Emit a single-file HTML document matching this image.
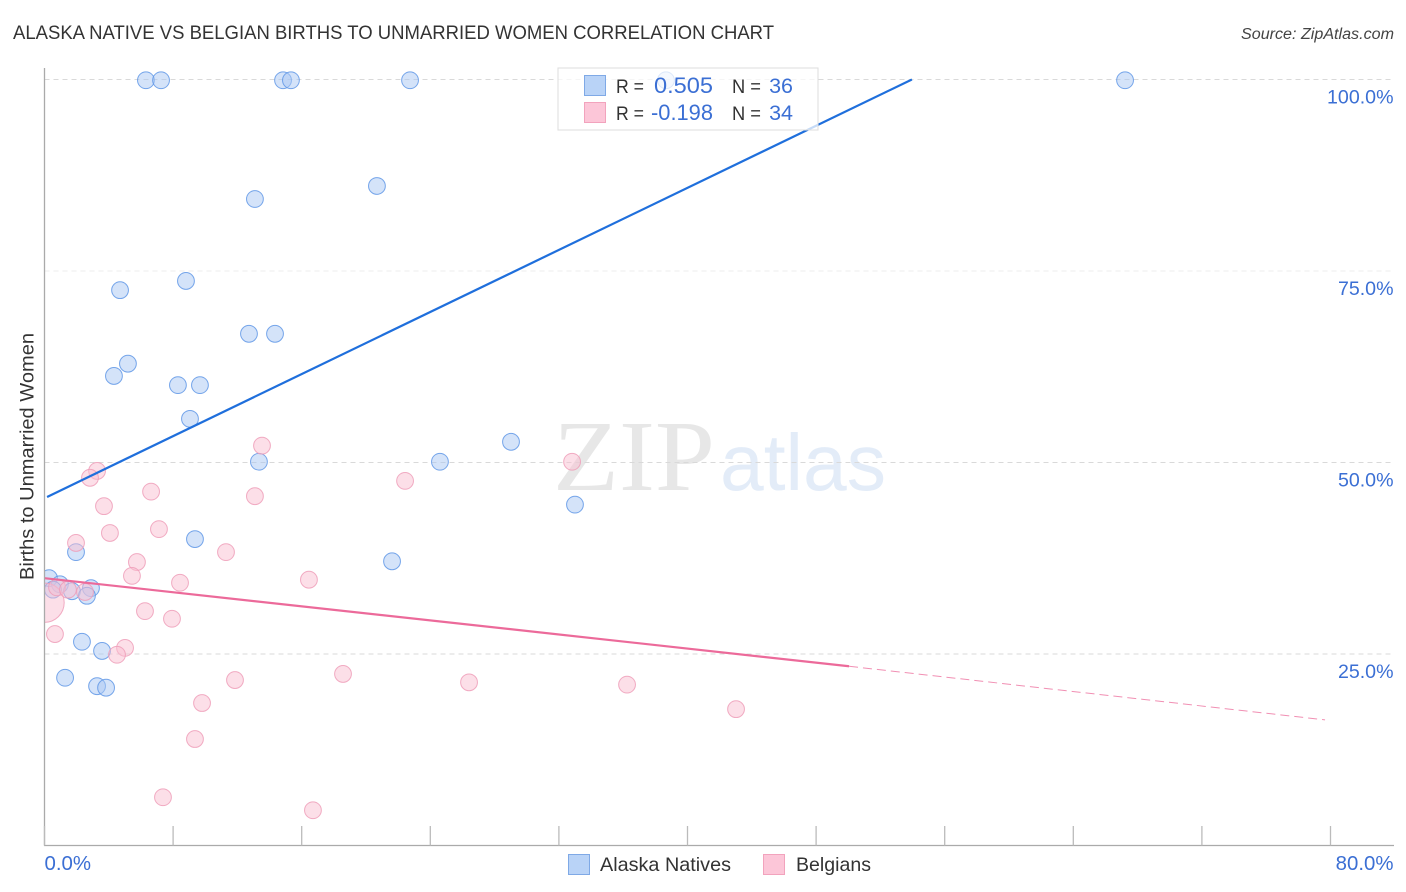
<!DOCTYPE html>
<html lang="en">
<head>
<meta charset="utf-8">
<title>Alaska Native vs Belgian Births to Unmarried Women Correlation Chart</title>
<style>
html,body{margin:0;padding:0;background:#fff;width:1406px;height:892px;overflow:hidden}
svg{display:block}
text{font-family:"Liberation Sans",sans-serif}
</style>
</head>
<body>
<svg id="chart" xmlns="http://www.w3.org/2000/svg" width="1406" height="892" viewBox="0 0 1406 892">
  <defs><clipPath id="plot-clip"><rect x="44.5" y="60" width="1350" height="785.5"/></clipPath></defs>
  <text x="13" y="39" font-size="19.5" fill="#333" textLength="761" lengthAdjust="spacingAndGlyphs">ALASKA NATIVE VS BELGIAN BIRTHS TO UNMARRIED WOMEN CORRELATION CHART</text>
  <text x="1241" y="39" font-size="15.5" font-style="italic" fill="#444" textLength="153" lengthAdjust="spacingAndGlyphs">Source: ZipAtlas.com</text>
  <text x="553" y="490" font-size="101" fill="#e7e7e7" style="font-family:'Liberation Serif',serif" textLength="162" lengthAdjust="spacingAndGlyphs">ZIP</text>
  <text x="720" y="490" font-size="80" fill="#e3ecf8" textLength="166" lengthAdjust="spacingAndGlyphs">atlas</text>
  <g id="grid"></g>
  <g id="points" clip-path="url(#plot-clip)"></g>
  <g id="trends"></g>
  <g id="axes"></g>
  <text transform="translate(33.5,456.5) rotate(-90)" font-size="19.5" fill="#333" text-anchor="middle" textLength="247" lengthAdjust="spacingAndGlyphs">Births to Unmarried Women</text>

  <g>
    <rect x="558" y="68" width="260" height="62" fill="#fff" fill-opacity="0.74" stroke="#ddd" stroke-width="1"/>
    <rect x="584.5" y="75.5" width="21" height="20" fill="#b9d3f7" stroke="#7fa9e6"/>
    <rect x="584.5" y="102.5" width="21" height="20" fill="#fcc6d8" stroke="#f2a3bd"/>
    <text x="616" y="93" font-size="19.5" fill="#333" textLength="28" lengthAdjust="spacingAndGlyphs">R =</text>
    <text x="654" y="93" font-size="22" fill="#3b6fd4" textLength="59" lengthAdjust="spacingAndGlyphs">0.505</text>
    <text x="732" y="93" font-size="19.5" fill="#333" textLength="29" lengthAdjust="spacingAndGlyphs">N =</text>
    <text x="793" y="93" font-size="21.5" fill="#3b6fd4" text-anchor="end">36</text>
    <text x="616" y="120" font-size="19.5" fill="#333" textLength="28" lengthAdjust="spacingAndGlyphs">R =</text>
    <text x="651" y="120" font-size="22" fill="#3b6fd4" textLength="62" lengthAdjust="spacingAndGlyphs">-0.198</text>
    <text x="732" y="120" font-size="19.5" fill="#333" textLength="29" lengthAdjust="spacingAndGlyphs">N =</text>
    <text x="793" y="120" font-size="21.5" fill="#3b6fd4" text-anchor="end">34</text>
  </g>

  <g>
    <rect x="568.5" y="854.5" width="21" height="20" fill="#b9d3f7" stroke="#7fa9e6"/>
    <text x="600" y="871" font-size="19.5" fill="#333" textLength="131" lengthAdjust="spacingAndGlyphs">Alaska Natives</text>
    <rect x="763.5" y="854.5" width="21" height="20" fill="#fcc6d8" stroke="#f2a3bd"/>
    <text x="796" y="871" font-size="19.5" fill="#333" textLength="75" lengthAdjust="spacingAndGlyphs">Belgians</text>
  </g>
</svg>
<script>
// Values (percent units)
const alaskaX = [6.31,7.25,14.84,15.33,22.74,67.22,38.66,20.68,13.09,8.80,4.70,12.72,14.34,5.19,4.32,8.30,9.67,9.05,13.34,24.6,29.02,33.0,9.36,21.62,1.96,0.28,0.96,0.53,1.71,2.89,2.64,2.33,3.58,1.28,3.27,3.83];
const alaskaY = [99.9,99.9,99.9,99.9,99.9,99.9,99.9,86.1,84.4,73.7,72.5,66.8,66.8,62.9,61.3,60.1,60.1,55.7,50.1,50.1,52.7,44.5,40.0,37.1,38.3,34.9,34.1,33.4,33.2,33.6,32.6,26.6,25.4,21.9,20.8,20.6];
const belgianX = [32.82,13.53,3.27,2.83,22.43,6.63,13.09,3.70,4.07,7.12,1.96,11.29,5.75,5.44,8.43,16.45,6.25,7.93,5.01,4.51,0.65,11.85,18.57,26.41,36.24,43.02,9.80,9.36,7.37,16.7,0,0.78,1.46,2.52];
const belgianY = [50.1,52.2,48.9,48.0,47.6,46.2,45.6,44.3,40.8,41.3,39.5,38.3,37.0,35.2,34.3,34.7,30.6,29.6,25.8,24.9,27.6,21.6,22.4,21.3,21.0,17.8,18.6,13.9,6.3,4.6,31.7,33.7,33.4,33.1];
const belgianWeight = [1,1,1,1,1,1,1,1,1,1,1,1,1,1,1,1,1,1,1,1,1,1,1,1,1,1,1,1,1,1,5.5,1,1,1];
const alaskaTrendX = [0.16,53.96];
const alaskaTrendY = [45.5,100];
const belgianTrendX = [0,50.05];
const belgianTrendY = [34.9,23.4];
const belgianForecastX = [50.05,79.66];
const belgianForecastY = [23.4,16.4];
const yGridValues = [100,75,50,25];
const yTickLabels = ["100.0%","75.0%","50.0%","25.0%"];
const xTickValues = [0,8,16,24,32,40,48,56,64,72,80];
const xEndValues = [0,80];
const xEndLabels = ["0.0%","80.0%"];

const NS = 'http://www.w3.org/2000/svg';
const sx = v => 44.5 + v * 16.075;
const sy = v => 845.5 - v * 7.66;
function mk(parent, tag, attrs, txt) {
  const el = document.createElementNS(NS, tag);
  for (const k in attrs) el.setAttribute(k, attrs[k]);
  if (txt !== undefined) el.textContent = txt;
  parent.appendChild(el);
  return el;
}
const grid = document.getElementById('grid');
const axes = document.getElementById('axes');
const points = document.getElementById('points');
const trends = document.getElementById('trends');

yGridValues.forEach((v, i) => {
  const line = mk(grid, 'line', {x1: 44.5, x2: 1394, y1: sy(v), y2: sy(v), stroke: i === 1 ? '#ececec' : '#d9d9d9', 'stroke-width': 1, 'stroke-dasharray': '5 4'});
  
  
  const label = mk(axes, 'text', {x: 1393.5, y: sy(v) + 24, 'font-size': 19.6, fill: '#3b6fd4', 'text-anchor': 'end'}, yTickLabels[i]);
  
  
});

const yAxis = mk(axes, 'line', {x1: 44.5, x2: 44.5, y1: 68, y2: 845.5, stroke: '#aaa', 'stroke-width': 1.3});


const xAxis = mk(axes, 'line', {x1: 44, x2: 1394, y1: 845.5, y2: 845.5, stroke: '#aaa', 'stroke-width': 1.3});


xTickValues.forEach(v => {
  const t = mk(axes, 'line', {x1: sx(v), x2: sx(v), y1: 826, y2: 845.5, stroke: '#bbb', 'stroke-width': 1.3});
  
  
});
xEndValues.forEach((v, i) => {
  const t = mk(axes, 'text', {x: i === 0 ? sx(v) : 1393.5, y: 870, 'font-size': 20.4, fill: '#3b6fd4', 'text-anchor': i === 0 ? 'start' : 'end'}, xEndLabels[i]);
  
  
});

alaskaX.forEach((x, i) => {
  const c = mk(points, 'circle', {cx: sx(x), cy: sy(alaskaY[i]), r: 8.4, fill: '#a9c8f3', 'fill-opacity': 0.5, stroke: '#5f96e6', 'stroke-width': 1, 'stroke-opacity': 0.85});
  
  
});
belgianX.forEach((x, i) => {
  const c = mk(points, 'circle', {cx: sx(x), cy: sy(belgianY[i]), r: 8.4 * Math.sqrt(belgianWeight[i]), fill: '#f9bfd2', 'fill-opacity': 0.5, stroke: '#ee9db8', 'stroke-width': 1, 'stroke-opacity': 0.85});
  
  
});

const bt = mk(trends, 'line', {x1: sx(alaskaTrendX[0]), y1: sy(alaskaTrendY[0]), x2: sx(alaskaTrendX[1]), y2: sy(alaskaTrendY[1]), stroke: '#1f6fdc', 'stroke-width': 2.2});


const pt = mk(trends, 'line', {x1: sx(belgianTrendX[0]), y1: sy(belgianTrendY[0]), x2: sx(belgianTrendX[1]), y2: sy(belgianTrendY[1]), stroke: '#ec6a9a', 'stroke-width': 2.2});


const pf = mk(trends, 'line', {x1: sx(belgianForecastX[0]), y1: sy(belgianForecastY[0]), x2: sx(belgianForecastX[1]), y2: sy(belgianForecastY[1]), stroke: '#ec6a9a', 'stroke-width': 1, 'stroke-dasharray': '9 5', 'stroke-opacity': 0.75});


</script>
</body>
</html>
